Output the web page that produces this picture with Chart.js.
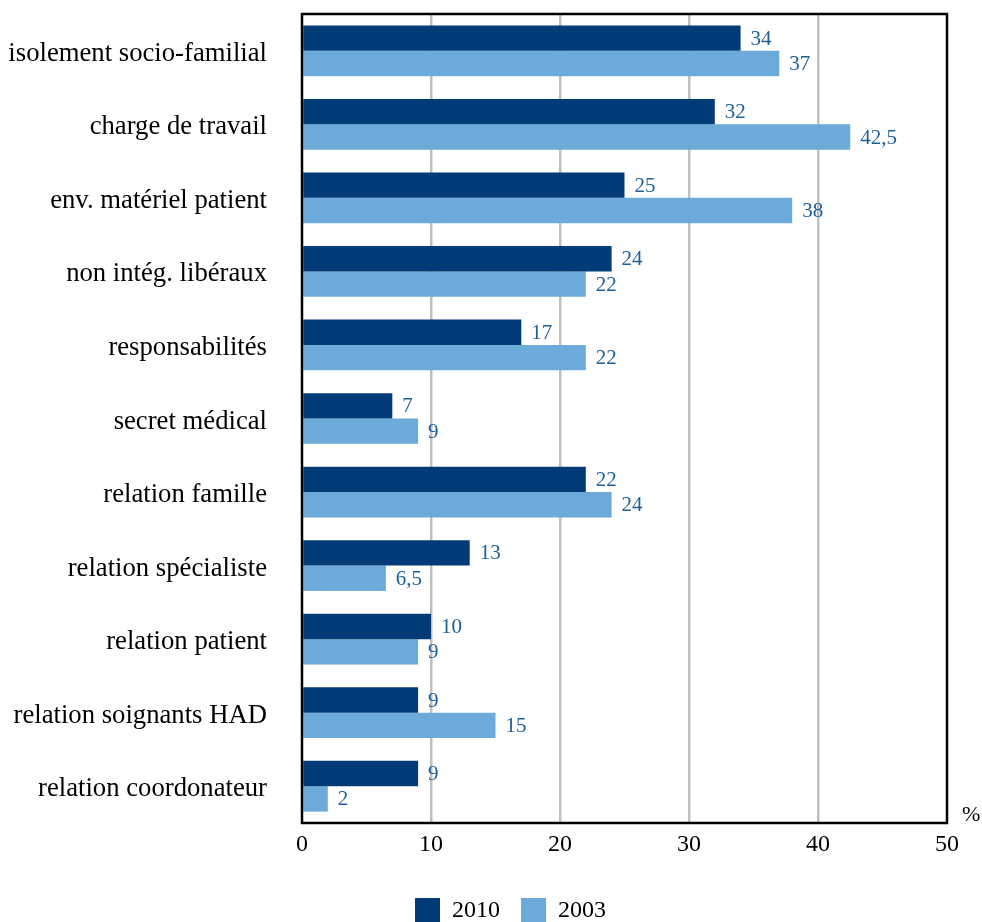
<!DOCTYPE html>
<html>
<head>
<meta charset="utf-8">
<script src="https://cdn.jsdelivr.net/npm/chart.js@4.4.1/dist/chart.umd.min.js"></script>
<style>
  html, body { margin: 0; padding: 0; background: #ffffff; }
  #wrap { width: 982px; height: 922px; position: relative; }
</style>
</head>
<body>
<div id="wrap"><canvas id="c"></canvas></div>
<script>
const categories = [
  "isolement socio-familial",
  "charge de travail",
  "env. matériel patient",
  "non intég. libéraux",
  "responsabilités",
  "secret médical",
  "relation famille",
  "relation spécialiste",
  "relation patient",
  "relation soignants HAD",
  "relation coordonateur"
];
const values2010 = [34, 32, 25, 24, 17, 7, 22, 13, 10, 9, 9];
const values2003 = [37, 42.5, 38, 22, 22, 9, 24, 6.5, 9, 15, 2];
const seriesLabels = ["2010", "2003"];
const xTicks = [0, 10, 20, 30, 40, 50];
const unitLabel = "%";

const SERIF = "'Liberation Serif', 'Times New Roman', serif";

const valueLabels = {
  id: 'valueLabels',
  afterDatasetsDraw(chart) {
    const ctx = chart.ctx;
    ctx.save();
    ctx.font = "21px " + SERIF;
    ctx.fillStyle = "#1f5f99";
    ctx.textAlign = "left";
    ctx.textBaseline = "middle";
    chart.data.datasets.forEach((ds, di) => {
      const meta = chart.getDatasetMeta(di);
      meta.data.forEach((el, i) => {
        const v = ds.data[i];
        const txt = String(v).replace('.', ',');
        ctx.fillText(txt, el.x + 10, el.y + 1);
      });
    });
    ctx.restore();
  }
};

const frame = {
  id: 'frame',
  afterDatasetsDraw(chart) {
    const a = chart.chartArea;
    const ctx = chart.ctx;
    ctx.save();
    ctx.strokeStyle = "#000000";
    ctx.lineWidth = 2.5;
    ctx.strokeRect(a.left, a.top, a.right - a.left, a.bottom - a.top);
    ctx.font = "22px " + SERIF;
    ctx.fillStyle = "#000000";
    ctx.textAlign = "left";
    ctx.textBaseline = "middle";
    ctx.fillText(unitLabel, a.right + 15, a.bottom - 8);
    ctx.restore();
  }
};

const legendShift = {
  id: 'legendShift',
  afterLayout(chart) {
    if (chart.legend) {
      chart.legend.left += 37;
      chart.legend.right += 37;
    }
  }
};

new Chart(document.getElementById('c'), {
  type: 'bar',
  data: {
    labels: categories,
    datasets: [
      { label: seriesLabels[0], data: values2010, backgroundColor: "#023b77", borderWidth: 0 },
      { label: seriesLabels[1], data: values2003, backgroundColor: "#6caad9", borderWidth: 0 }
    ]
  },
  options: {
    indexAxis: 'y',
    responsive: true,
    maintainAspectRatio: false,
    animation: false,
    devicePixelRatio: 1,
    layout: { padding: { left: 0, right: 35, top: 14, bottom: 0 } },
    datasets: { bar: { barPercentage: 1.0, categoryPercentage: 0.69 } },
    scales: {
      x: {
        min: 0, max: 50,
        afterBuildTicks: s => { s.ticks = xTicks.map(v => ({ value: v })); },
        afterFit: s => { s.height = 54; s.paddingLeft = 0; s.paddingRight = 0; },
        border: { display: false },
        grid: {
          drawTicks: false,
          lineWidth: 2.5,
          color: ctx => (ctx.tick && (ctx.tick.value === 0 || ctx.tick.value === 50)) ? 'rgba(0,0,0,0)' : '#bfbfbf'
        },
        ticks: {
          padding: 7,
          color: "#000000",
          font: { family: SERIF, size: 24 },
          maxRotation: 0
        }
      },
      y: {
        afterFit: s => { s.width = 302; s.paddingTop = 0; s.paddingBottom = 0; },
        border: { display: false },
        grid: { display: false, drawTicks: false },
        ticks: {
          padding: 35,
          labelOffset: 3,
          color: "#000000",
          font: { family: SERIF, size: 26.7 }
        }
      }
    },
    plugins: {
      legend: {
        position: 'bottom',
        maxHeight: 45,
        labels: {
          boxWidth: 25,
          boxHeight: 25,
          padding: 21,
          color: "#000000",
          font: { family: SERIF, size: 24 }
        }
      },
      tooltip: { enabled: false },
      title: { display: false }
    }
  },
  plugins: [valueLabels, frame, legendShift]
});
</script>
</body>
</html>
